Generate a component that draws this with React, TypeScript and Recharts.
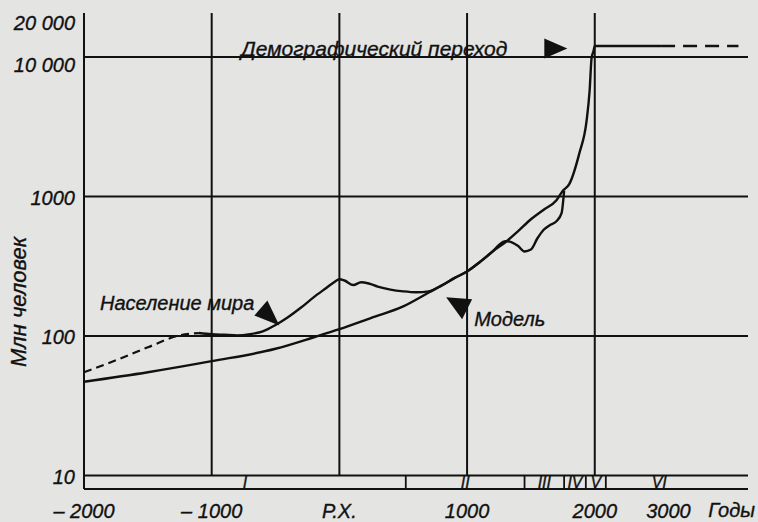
import {
  LineChart,
  Line,
  XAxis,
  YAxis,
  ReferenceLine,
  ReferenceArea,
  ReferenceDot,
} from "recharts";

// after 2000 the book's time axis is squeezed
const POST_2000_SCALE = 0.577;
const toAxis = (year: number) =>
  year <= 2000 ? year : 2000 + (year - 2000) * POST_2000_SCALE;

const Y_MIN = 8;
const Y_MAX = 20700;

// world population, reconstructed part (dashed)
const popEarlyYears = [-2000, -1750, -1500, -1250, -1100];
const popEarlyValues = [55, 67, 83, 101, 105];

// world population, data
const popYears = [
  -1100, -1000, -900, -800, -700, -600, -500, -400, -300, -200, -100, -50, 0,
  40, 110, 170, 230, 300, 400, 500, 600, 700, 800, 900, 1000, 1100, 1200, 1250,
  1300, 1350, 1400, 1450, 1500, 1550, 1600, 1650, 1700, 1740, 1760,
];
const popValues = [
  105, 103, 102, 101, 103, 108, 120, 137, 160, 190, 222, 240, 255, 250, 232,
  243, 238, 226, 215, 209, 206, 209, 230, 260, 290, 339, 404, 450, 479, 470,
  442, 404, 417, 500, 578, 625, 665, 760, 1100,
];

// model curve
const modelYears = [
  -2000, -1500, -1000, -500, -200, 0, 250, 500, 700, 800, 900, 1000, 1100,
  1200, 1300, 1400, 1500, 1600, 1700, 1750, 1800, 1880, 1935, 1960, 1975, 1990,
  2000, 2900,
];
const modelValues = [
  47, 55, 66, 81, 98, 112, 135, 163, 205, 230, 260, 290, 339, 404, 470, 565,
  687, 804, 940, 1100, 1226, 2055, 3446, 5780, 9840, 11000, 12000, 12000,
];

// forecast (dashed)
const futureYears = [2900, 3950];
const futureValues = [12000, 12000];

const xTickYears = [-2000, -1000, 0, 1000, 2000, 3000];
const xTickLabels = ["– 2000", "– 1000", "Р.Х.", "1000", "2000", "3000"];
const yTicks = [10, 100, 1000, 10000, 20000];
const yTickLabels = ["10", "100", "1000", "10 000", "20 000"];
const gridYears = [-1000, 0, 1000, 2000];
const gridValues = [10, 100, 1000, 10000];

const periodNames = ["I", "II", "III", "IV", "V", "VI"];
const periodStarts = [-2000, 520, 1450, 1760, 1930, 2150];
const periodEnds = [520, 1450, 1760, 1930, 2150, 3600];

const toPoints = (years: number[], values: number[]) =>
  years.map((y, i) => ({ x: toAxis(y), v: values[i] }));

const popEarly = toPoints(popEarlyYears, popEarlyValues);
const pop = toPoints(popYears, popValues);
const model = toPoints(modelYears, modelValues);
const future = toPoints(futureYears, futureValues);

const INK = "#111";
const FONT = "'Liberation Sans', Arial, sans-serif";

const textStyle = {
  fontFamily: FONT,
  fontStyle: "italic" as const,
  fill: INK,
  stroke: INK,
  strokeWidth: 0.35,
};

const tri = (cx: number, cy: number, pts: number[][]) =>
  pts.map(([dx, dy]) => `${cx + dx},${cy + dy}`).join(" ");

const YTick = (p: any) => {
  const v = p.payload.value;
  // the book prints the two top labels a little below their levels
  const nudge = v >= 10000 ? 8 : 1;
  return (
    <text
      x={p.x}
      y={p.y + nudge}
      dy="0.355em"
      textAnchor="end"
      fontSize={20}
      {...textStyle}
    >
      {yTickLabels[yTicks.indexOf(v)]}
    </text>
  );
};

export default function App() {
  const xTicks = xTickYears.map(toAxis);

  return (
    <div
      style={{
        position: "fixed",
        left: 0,
        top: 0,
        width: 758,
        height: 522,
        background: "#e4e4e2",
      }}
    >
      <LineChart
        width={758}
        height={522}
        margin={{ top: 13, right: 10, bottom: 0, left: 0 }}
      >
        <XAxis
          type="number"
          dataKey="x"
          domain={[-2000, 3200]}
          ticks={xTicks}
          tickFormatter={(v) => xTickLabels[xTicks.indexOf(v)] ?? ""}
          tickLine={false}
          tickSize={0}
          tickMargin={15}
          height={33}
          axisLine={{ stroke: INK, strokeWidth: 2 }}
          tick={{ ...textStyle, fontSize: 20 }}
          interval={0}
          label={{
            content: (p: any) => (
              <text
                x={p.viewBox.x + p.viewBox.width + 7}
                y={p.viewBox.y + 28}
                textAnchor="end"
                fontSize={20}
                {...textStyle}
              >
                Годы
              </text>
            ),
          }}
        />
        <YAxis
          type="number"
          scale="log"
          domain={[Y_MIN, Y_MAX]}
          allowDataOverflow
          ticks={yTicks}
          tick={<YTick />}
          tickLine={false}
          tickSize={0}
          tickMargin={9}
          width={84}
          axisLine={{ stroke: INK, strokeWidth: 2 }}
          interval={0}
          label={{
            content: (p: any) => (
              <text
                transform={`translate(${p.viewBox.x + 26},${
                  p.viewBox.y + p.viewBox.height * 0.607
                }) rotate(-90)`}
                textAnchor="middle"
                fontSize={22}
                {...textStyle}
              >
                Млн человек
              </text>
            ),
          }}
        />

        {gridValues.map((v) => (
          <ReferenceLine key={`h${v}`} y={v} stroke={INK} strokeWidth={2} />
        ))}
        {gridYears.map((yr) => (
          <ReferenceLine
            key={`v${yr}`}
            segment={[
              { x: toAxis(yr), y: 10 },
              { x: toAxis(yr), y: Y_MAX },
            ]}
            stroke={INK}
            strokeWidth={2}
          />
        ))}

        {/* period band under the 10 line */}
        {periodStarts.slice(1).map((yr) => (
          <ReferenceLine
            key={`p${yr}`}
            segment={[
              { x: toAxis(yr), y: Y_MIN },
              { x: toAxis(yr), y: 10 },
            ]}
            stroke={INK}
            strokeWidth={1.8}
          />
        ))}
        {periodNames.map((name, i) => (
          <ReferenceArea
            key={name}
            x1={toAxis(periodStarts[i])}
            x2={toAxis(periodEnds[i])}
            y1={Y_MIN}
            y2={10}
            fillOpacity={0}
            strokeOpacity={0}
            label={{
              value: name,
              position: "center",
              fontSize: 16,
              ...textStyle,
            }}
          />
        ))}

        <Line
          data={popEarly}
          dataKey="v"
          stroke={INK}
          strokeWidth={2.2}
          strokeDasharray="8 5"
          type="monotone"
          dot={false}
          activeDot={false}
          isAnimationActive={false}
        />
        <Line
          data={pop}
          dataKey="v"
          stroke={INK}
          strokeWidth={2.4}
          type="monotone"
          dot={false}
          activeDot={false}
          isAnimationActive={false}
        />
        <Line
          data={model}
          dataKey="v"
          stroke={INK}
          strokeWidth={2.4}
          type="monotone"
          dot={false}
          activeDot={false}
          isAnimationActive={false}
        />
        <Line
          data={future}
          dataKey="v"
          stroke={INK}
          strokeWidth={2.4}
          strokeDasharray="14 8"
          type="linear"
          dot={false}
          activeDot={false}
          isAnimationActive={false}
        />

        {/* annotations */}
        <ReferenceDot
          x={toAxis(1785)}
          y={11500}
          shape={(p: any) => (
            <g>
              <polygon
                points={tri(p.cx, p.cy, [
                  [0, 0],
                  [-23, -10],
                  [-23, 10],
                ])}
                fill={INK}
              />
              <text
                x={p.cx - 60}
                y={p.cy + 7}
                textAnchor="end"
                fontSize={21}
                {...textStyle}
              >
                Демографический переход
              </text>
            </g>
          )}
        />
        <ReferenceDot
          x={toAxis(-470)}
          y={119}
          shape={(p: any) => (
            <g>
              <polygon
                points={tri(p.cx, p.cy, [
                  [0, 0],
                  [-25, -10],
                  [-12, -25],
                ])}
                fill={INK}
              />
              <text
                x={p.cx - 25}
                y={p.cy - 15}
                textAnchor="end"
                fontSize={20}
                {...textStyle}
              >
                Население мира
              </text>
            </g>
          )}
        />
        <ReferenceDot
          x={toAxis(836)}
          y={190}
          shape={(p: any) => (
            <g>
              <polygon
                points={tri(p.cx, p.cy, [
                  [0, 0],
                  [26, 2],
                  [16, 22],
                ])}
                fill={INK}
              />
              <text
                x={p.cx + 28}
                y={p.cy + 29}
                textAnchor="start"
                fontSize={20}
                {...textStyle}
              >
                Модель
              </text>
            </g>
          )}
        />
      </LineChart>
    </div>
  );
}
